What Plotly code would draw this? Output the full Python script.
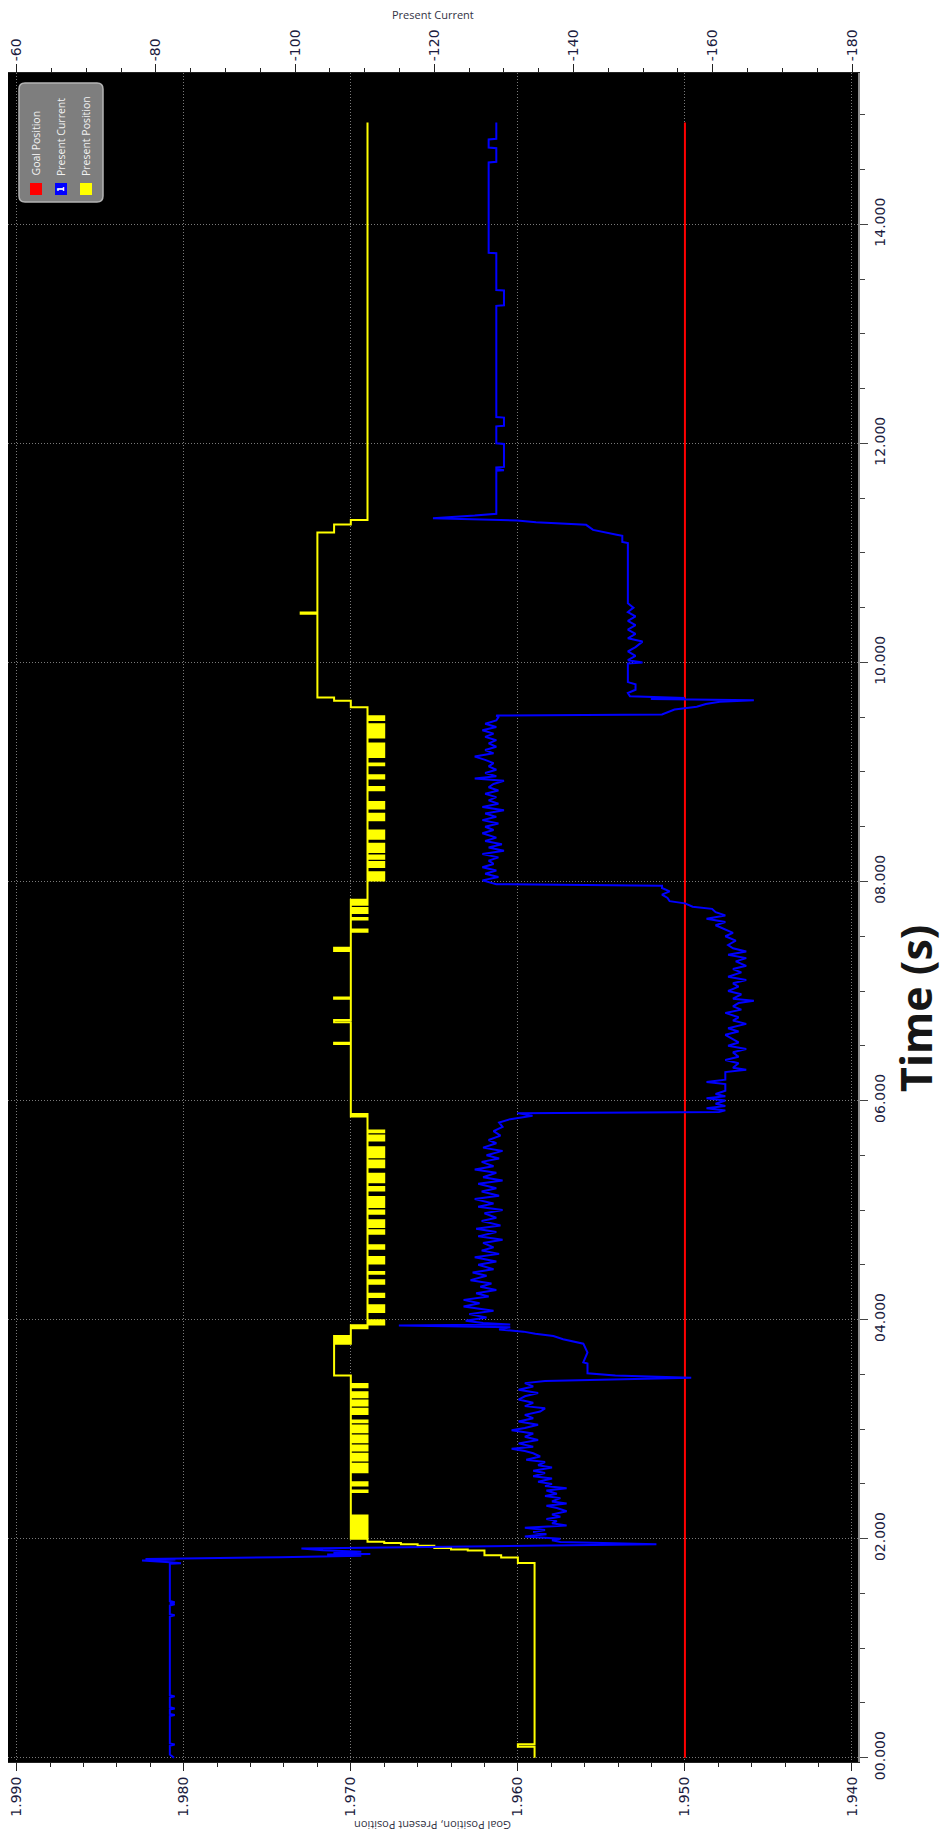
import plotly.graph_objects as go

# ---------------- data ----------------
# Goal Position (red)
goal_t = [0.0, 14.93]
goal_v = [1.950, 1.950]

# Present Position (yellow): change points (time s, value), value held until next time
position_samples = [
    (0.000, 1.959), (0.100, 1.960), (0.122, 1.959),
    (1.778, 1.960), (1.827, 1.961), (1.848, 1.962), (1.893, 1.963), (1.900, 1.964), (1.915, 1.965),
    (1.935, 1.966), (1.950, 1.967), (1.960, 1.968), (1.972, 1.969),
    (2.000, 1.970), (2.012, 1.969), (2.024, 1.970), (2.036, 1.969), (2.048, 1.970), (2.060, 1.969),
    (2.072, 1.970), (2.084, 1.969), (2.096, 1.970), (2.108, 1.969), (2.120, 1.970), (2.132, 1.969),
    (2.144, 1.970), (2.156, 1.969), (2.168, 1.970), (2.180, 1.969), (2.192, 1.970), (2.202, 1.969),
    (2.212, 1.970),
    (2.425, 1.969), (2.440, 1.970),
    (2.486, 1.969), (2.496, 1.970), (2.504, 1.969), (2.516, 1.970),
    (2.607, 1.969), (2.617, 1.970), (2.625, 1.969), (2.635, 1.970), (2.645, 1.969), (2.655, 1.970),
    (2.663, 1.969), (2.672, 1.970), (2.678, 1.969), (2.684, 1.970),
    (2.714, 1.969), (2.722, 1.970), (2.730, 1.969), (2.740, 1.970), (2.748, 1.969), (2.757, 1.970),
    (2.765, 1.969), (2.775, 1.970),
    (2.805, 1.969), (2.815, 1.970), (2.825, 1.969), (2.835, 1.970), (2.842, 1.969), (2.850, 1.970),
    (2.881, 1.969), (2.890, 1.970), (2.899, 1.969), (2.908, 1.970), (2.916, 1.969), (2.925, 1.970),
    (2.932, 1.969), (2.941, 1.970),
    (2.972, 1.969), (2.981, 1.970), (2.990, 1.969), (3.000, 1.970), (3.008, 1.969), (3.017, 1.970),
    (3.025, 1.969), (3.033, 1.970),
    (3.063, 1.969), (3.078, 1.970),
    (3.139, 1.969), (3.148, 1.970), (3.156, 1.969), (3.166, 1.970), (3.175, 1.969), (3.185, 1.970),
    (3.215, 1.969), (3.224, 1.970), (3.233, 1.969), (3.243, 1.970), (3.252, 1.969), (3.261, 1.970),
    (3.291, 1.969), (3.300, 1.970), (3.309, 1.969), (3.318, 1.970), (3.328, 1.969), (3.337, 1.970),
    (3.382, 1.969), (3.392, 1.970), (3.402, 1.969), (3.413, 1.970),
    (3.489, 1.971),
    (3.780, 1.970), (3.790, 1.971), (3.800, 1.970), (3.810, 1.971), (3.820, 1.970), (3.835, 1.971),
    (3.850, 1.970),
    (3.920, 1.969), (3.930, 1.970), (3.948, 1.969),
    (3.955, 1.968), (3.965, 1.969), (3.975, 1.968), (3.985, 1.969), (3.990, 1.968), (3.994, 1.969),
    (4.070, 1.968), (4.080, 1.969), (4.090, 1.968), (4.100, 1.969), (4.110, 1.968), (4.120, 1.969),
    (4.125, 1.968), (4.131, 1.969),
    (4.207, 1.968), (4.217, 1.969), (4.227, 1.968), (4.237, 1.969),
    (4.328, 1.968), (4.338, 1.969), (4.348, 1.968), (4.359, 1.969),
    (4.419, 1.968), (4.435, 1.969),
    (4.511, 1.968), (4.521, 1.969), (4.531, 1.968), (4.541, 1.969), (4.551, 1.968), (4.561, 1.969),
    (4.566, 1.968), (4.571, 1.969),
    (4.647, 1.968), (4.657, 1.969), (4.667, 1.968), (4.678, 1.969),
    (4.784, 1.968), (4.794, 1.969), (4.804, 1.968), (4.815, 1.969),
    (4.845, 1.968), (4.855, 1.969), (4.865, 1.968), (4.875, 1.969), (4.885, 1.968), (4.895, 1.969),
    (4.900, 1.968), (4.906, 1.969),
    (4.967, 1.968), (4.977, 1.969), (4.987, 1.968), (4.997, 1.969),
    (5.027, 1.968), (5.037, 1.969), (5.047, 1.968), (5.057, 1.969), (5.067, 1.968), (5.077, 1.969),
    (5.087, 1.968), (5.097, 1.969), (5.107, 1.968), (5.113, 1.969), (5.116, 1.968), (5.119, 1.969),
    (5.179, 1.968), (5.189, 1.969), (5.199, 1.968), (5.210, 1.969),
    (5.255, 1.968), (5.265, 1.969), (5.275, 1.968), (5.285, 1.969), (5.295, 1.968), (5.305, 1.969),
    (5.315, 1.968), (5.323, 1.969), (5.327, 1.968), (5.331, 1.969),
    (5.392, 1.968), (5.402, 1.969), (5.412, 1.968), (5.422, 1.969), (5.432, 1.968), (5.443, 1.969),
    (5.448, 1.968), (5.453, 1.969),
    (5.483, 1.968), (5.493, 1.969), (5.503, 1.968), (5.514, 1.969),
    (5.529, 1.968), (5.539, 1.969), (5.549, 1.968), (5.559, 1.969), (5.566, 1.968), (5.574, 1.969),
    (5.635, 1.968), (5.645, 1.969), (5.655, 1.968), (5.665, 1.969), (5.673, 1.968), (5.681, 1.969),
    (5.711, 1.968), (5.726, 1.969),
    (5.855, 1.970), (5.862, 1.969), (5.878, 1.970),
    (6.517, 1.971), (6.527, 1.970),
    (6.714, 1.971), (6.735, 1.970),
    (6.930, 1.971), (6.940, 1.970),
    (7.365, 1.971), (7.375, 1.970), (7.385, 1.971), (7.395, 1.970),
    (7.540, 1.969), (7.550, 1.970), (7.556, 1.969), (7.561, 1.970),
    (7.652, 1.969), (7.667, 1.970),
    (7.713, 1.969), (7.723, 1.970), (7.733, 1.969), (7.743, 1.970), (7.751, 1.969), (7.758, 1.970),
    (7.788, 1.969), (7.798, 1.970), (7.808, 1.969), (7.818, 1.970), (7.826, 1.969), (7.830, 1.970),
    (7.834, 1.969),
    (8.009, 1.968), (8.019, 1.969), (8.029, 1.968), (8.039, 1.969), (8.049, 1.968), (8.059, 1.969),
    (8.069, 1.968), (8.077, 1.969), (8.081, 1.968), (8.085, 1.969),
    (8.131, 1.968), (8.141, 1.969), (8.151, 1.968), (8.161, 1.969), (8.170, 1.968), (8.177, 1.969),
    (8.207, 1.968), (8.217, 1.969), (8.227, 1.968), (8.238, 1.969),
    (8.268, 1.968), (8.278, 1.969), (8.288, 1.968), (8.298, 1.969), (8.308, 1.968), (8.318, 1.969),
    (8.328, 1.968), (8.337, 1.969), (8.341, 1.968), (8.345, 1.969),
    (8.390, 1.968), (8.400, 1.969), (8.410, 1.968), (8.420, 1.969), (8.430, 1.968), (8.440, 1.969),
    (8.450, 1.968), (8.458, 1.969), (8.462, 1.968), (8.466, 1.969),
    (8.558, 1.968), (8.568, 1.969), (8.578, 1.968), (8.588, 1.969), (8.598, 1.968), (8.610, 1.969),
    (8.614, 1.968), (8.619, 1.969),
    (8.665, 1.968), (8.675, 1.969), (8.685, 1.968), (8.695, 1.969), (8.705, 1.968), (8.716, 1.969),
    (8.721, 1.968), (8.726, 1.969),
    (8.832, 1.968), (8.842, 1.969), (8.852, 1.968), (8.863, 1.969),
    (8.939, 1.968), (8.949, 1.969), (8.959, 1.968), (8.970, 1.969),
    (9.061, 1.968), (9.076, 1.969),
    (9.137, 1.968), (9.147, 1.969), (9.157, 1.968), (9.167, 1.969), (9.177, 1.968), (9.187, 1.969),
    (9.197, 1.968), (9.207, 1.969), (9.217, 1.968), (9.227, 1.969), (9.237, 1.968), (9.247, 1.969),
    (9.253, 1.968), (9.259, 1.969),
    (9.314, 1.968), (9.324, 1.969), (9.334, 1.968), (9.344, 1.969), (9.354, 1.968), (9.364, 1.969),
    (9.374, 1.968), (9.384, 1.969), (9.394, 1.968), (9.404, 1.969), (9.414, 1.968), (9.424, 1.969),
    (9.430, 1.968), (9.436, 1.969),
    (9.473, 1.968), (9.483, 1.969), (9.493, 1.968), (9.503, 1.969), (9.506, 1.968), (9.509, 1.969),
    (9.590, 1.970), (9.650, 1.971), (9.680, 1.972),
    (10.445, 1.973), (10.455, 1.972),
    (11.186, 1.971), (11.260, 1.970), (11.300, 1.969),
    (14.930, 1.969),
]

# Present Current (blue): (time s, current)
current_samples = [
    (0.000, -82.6), (0.030, -82.0), (0.110, -82.0), (0.120, -82.7), (0.130, -82.0),
    (0.380, -82.0), (0.390, -82.7), (0.400, -82.0), (0.440, -82.0), (0.450, -82.7), (0.460, -82.0),
    (0.550, -82.0), (0.560, -82.7), (0.570, -82.0), (1.290, -82.0), (1.300, -82.7), (1.310, -82.0),
    (1.390, -82.0), (1.400, -82.7), (1.410, -82.0), (1.420, -82.7), (1.430, -82.0), (1.770, -82.0),
    (1.775, -83.6), (1.785, -82.0), (1.800, -78.0), (1.810, -82.8), (1.815, -78.5), (1.830, -97.8),
    (1.845, -109.5), (1.855, -104.6), (1.860, -110.8), (1.870, -105.5), (1.880, -109.5), (1.895, -104.0),
    (1.910, -100.9), (1.950, -151.9), (1.960, -145.0), (1.970, -138.1), (1.985, -136.9), (2.000, -138.1),
    (2.02, -133.0), (2.04, -136.1), (2.06, -134.2), (2.08, -135.9), (2.10, -133.0), (2.12, -139.0),
    (2.14, -136.9), (2.16, -137.6), (2.18, -136.1), (2.20, -138.1), (2.22, -136.9), (2.25, -139.0),
    (2.28, -137.6), (2.30, -136.1), (2.32, -139.0), (2.34, -136.9), (2.37, -138.1), (2.39, -135.9),
    (2.41, -137.6), (2.44, -136.1), (2.46, -139.0), (2.48, -135.9), (2.50, -136.9), (2.52, -134.9),
    (2.55, -136.9), (2.57, -134.2), (2.60, -135.9), (2.62, -134.2), (2.65, -136.9), (2.67, -134.9),
    (2.70, -135.9), (2.72, -133.2), (2.75, -135.2), (2.78, -134.2), (2.80, -133.0), (2.82, -131.1),
    (2.84, -134.2), (2.87, -132.1), (2.90, -134.9), (2.93, -133.0), (2.96, -134.2), (2.99, -131.1),
    (3.01, -133.0), (3.04, -134.9), (3.07, -132.1), (3.10, -134.2), (3.13, -133.0), (3.16, -135.2),
    (3.19, -135.9), (3.21, -133.0), (3.24, -134.2), (3.27, -132.1), (3.30, -133.0), (3.33, -134.9),
    (3.36, -132.1), (3.39, -134.2), (3.42, -133.0), (3.44, -135.9),
    (3.47, -156.9), (3.49, -146.0), (3.51, -142.0), (3.60, -142.0), (3.61, -141.4), (3.70, -142.0),
    (3.78, -141.4), (3.80, -139.8), (3.82, -138.5), (3.85, -137.1), (3.87, -134.5), (3.89, -132.8),
    (3.91, -129.3), (3.93, -130.9), (3.945, -114.9), (3.955, -130.9), (3.97, -127.0), (3.99, -124.5),
    (4.02, -127.5), (4.05, -125.0), (4.08, -128.5), (4.12, -124.2), (4.15, -126.5), (4.18, -124.2),
    (4.21, -127.8), (4.24, -126.0), (4.27, -128.9), (4.30, -126.6), (4.33, -128.2), (4.36, -125.2),
    (4.40, -127.5), (4.43, -125.5), (4.46, -128.5), (4.50, -126.3), (4.53, -128.9), (4.57, -125.8),
    (4.60, -129.3), (4.63, -126.8), (4.66, -128.5), (4.70, -127.0), (4.73, -129.8), (4.76, -126.3),
    (4.80, -128.9), (4.83, -126.0), (4.86, -129.5), (4.90, -126.8), (4.93, -128.9), (4.97, -127.2),
    (5.00, -129.8), (5.03, -126.3), (5.06, -128.5), (5.10, -125.8), (5.13, -129.3), (5.17, -126.8),
    (5.20, -128.9), (5.24, -126.3), (5.27, -129.8), (5.30, -127.0), (5.34, -128.9), (5.37, -125.8),
    (5.40, -128.5), (5.44, -126.8), (5.47, -129.3), (5.50, -127.5), (5.54, -129.8), (5.57, -127.0),
    (5.61, -128.9), (5.64, -127.8), (5.68, -129.5), (5.72, -128.5), (5.76, -129.8), (5.80, -129.3),
    (5.83, -130.9), (5.86, -134.1), (5.885, -131.9), (5.895, -160.9),
    (5.91, -161.8), (5.93, -159.1), (5.95, -161.8), (5.97, -160.4), (6.00, -161.8), (6.02, -159.1),
    (6.04, -161.8), (6.06, -160.4), (6.09, -161.8), (6.15, -161.8), (6.17, -159.1), (6.19, -161.8),
    (6.26, -161.8), (6.28, -164.8), (6.30, -162.9), (6.34, -163.7), (6.37, -161.8), (6.40, -163.7),
    (6.44, -162.9), (6.47, -164.8), (6.50, -162.2), (6.53, -163.7), (6.56, -162.9), (6.60, -161.8),
    (6.63, -163.7), (6.66, -162.2), (6.70, -164.8), (6.73, -162.9), (6.76, -163.7), (6.80, -161.8),
    (6.83, -164.1), (6.86, -162.9), (6.89, -163.7), (6.91, -165.9), (6.93, -162.9), (6.97, -164.1),
    (7.00, -162.2), (7.04, -163.7), (7.07, -162.9), (7.10, -164.8), (7.13, -162.2), (7.17, -164.1),
    (7.20, -162.9), (7.23, -164.8), (7.27, -163.3), (7.30, -164.8), (7.33, -162.2), (7.36, -164.8),
    (7.39, -162.9), (7.42, -162.2), (7.46, -163.3), (7.50, -161.8), (7.53, -162.9), (7.56, -161.8),
    (7.60, -160.4), (7.63, -161.8), (7.66, -159.1), (7.69, -161.8), (7.72, -160.4), (7.75, -159.9),
    (7.77, -157.1), (7.80, -156.0), (7.82, -153.8), (7.85, -153.5), (7.88, -152.7), (7.91, -153.8),
    (7.94, -152.7), (7.96, -152.7), (7.975, -128.9),
    (8.01, -126.9), (8.04, -129.2), (8.07, -127.3), (8.10, -128.9), (8.13, -126.9), (8.16, -128.5),
    (8.19, -127.8), (8.22, -129.2), (8.25, -126.9), (8.28, -130.0), (8.31, -127.8), (8.34, -129.7),
    (8.37, -127.3), (8.40, -128.9), (8.44, -126.9), (8.47, -128.5), (8.50, -127.3), (8.53, -129.2),
    (8.56, -126.9), (8.59, -128.9), (8.62, -127.3), (8.65, -130.0), (8.68, -126.9), (8.71, -129.2),
    (8.74, -127.8), (8.77, -128.9), (8.80, -127.3), (8.83, -129.2), (8.86, -127.8), (8.89, -128.5),
    (8.92, -130.0), (8.94, -125.8), (8.96, -128.9), (8.99, -127.3), (9.02, -128.9), (9.05, -127.8),
    (9.08, -128.5), (9.11, -127.3), (9.14, -125.8), (9.17, -128.5), (9.20, -127.3), (9.23, -128.9),
    (9.26, -127.8), (9.29, -128.9), (9.32, -127.3), (9.35, -128.5), (9.38, -126.9), (9.41, -128.9),
    (9.44, -127.3), (9.47, -128.9), (9.50, -129.2), (9.515, -128.9),
    (9.525, -152.7), (9.54, -153.3), (9.57, -154.5), (9.595, -157.7), (9.62, -159.0), (9.64, -161.0),
    (9.655, -165.9), (9.665, -151.1), (9.675, -156.0), (9.69, -148.1), (9.72, -147.8), (9.75, -148.9),
    (9.80, -148.9), (9.82, -147.8), (9.99, -147.8), (10.00, -149.9), (10.02, -147.8), (10.06, -148.9),
    (10.10, -147.8), (10.14, -148.9), (10.19, -149.9), (10.22, -147.8), (10.26, -148.9), (10.30, -147.8),
    (10.34, -148.9), (10.38, -147.8), (10.42, -148.9), (10.46, -147.8), (10.50, -148.6), (10.54, -147.8),
    (11.09, -147.8), (11.10, -147.0), (11.155, -147.0), (11.165, -146.2), (11.18, -145.0),
    (11.21, -142.8), (11.256, -141.8), (11.28, -134.6), (11.296, -131.9), (11.317, -119.8),
    (11.34, -125.8), (11.357, -128.9),
    (11.750, -128.9), (11.755, -130.0), (11.765, -128.9), (11.780, -128.9), (11.785, -130.0),
    (11.995, -130.0), (12.000, -128.9), (12.155, -128.9), (12.160, -130.0), (12.235, -130.0),
    (12.240, -128.9), (13.255, -128.9), (13.260, -130.0), (13.395, -130.0), (13.400, -128.9),
    (13.735, -128.9), (13.740, -127.8), (14.565, -127.8), (14.570, -128.9), (14.695, -128.9),
    (14.700, -127.8), (14.775, -127.8), (14.780, -128.9), (14.930, -128.9),
]

pos_ticks = [1.990, 1.980, 1.970, 1.960, 1.950, 1.940]
pos_ticktext = ["1.990", "1.980", "1.970", "1.960", "1.950", "1.940"]
cur_ticks = [-60, -80, -100, -120, -140, -160, -180]
cur_ticktext = ["-60", "-80", "-100", "-120", "-140", "-160", "-180"]
time_ticks = [0, 2, 4, 6, 8, 10, 12, 14]
time_ticktext = ["00.000", "02.000", "04.000", "06.000", "08.000", "10.000", "12.000", "14.000"]

legend_names = ["Goal Position", "Present Current", "Present Position"]
legend_colors = ["#ff0000", "#0000ff", "#ffff00"]

# ---------------- layout geometry (pixels) ----------------
W, H = 945, 1834
PL, PR, PT, PB = 8, 858, 73, 1762


def px(x):
    return (x - PL) / (PR - PL)


def py(y):
    return (PB - y) / (PB - PT)


pos_t = [s[0] for s in position_samples]
pos_v = [s[1] for s in position_samples]
cur_t = [s[0] for s in current_samples]
cur_v = [s[1] for s in current_samples]

fig = go.Figure()
fig.add_trace(go.Scatter(x=goal_v, y=goal_t, mode="lines", name=legend_names[0],
                         line=dict(color="#ff0000", width=2), xaxis="x", yaxis="y"))
fig.add_trace(go.Scatter(x=pos_v, y=pos_t, mode="lines", name=legend_names[2],
                         line=dict(color="#ffff00", width=2, shape="vh"), xaxis="x", yaxis="y"))
fig.add_trace(go.Scatter(x=cur_v, y=cur_t, mode="lines", name=legend_names[1],
                         line=dict(color="#0000ff", width=2), xaxis="x2", yaxis="y"))

tickfont = dict(family="DejaVu Sans", size=14, color="#1c1c40")
grid_col = "#7a7a7a"

fig.update_layout(
    width=W, height=H,
    margin=dict(l=PL, r=W - PR, t=PT, b=H - PB),
    paper_bgcolor="white", plot_bgcolor="black",
    showlegend=False,
    xaxis=dict(
        range=[1.99052, 1.93964], side="bottom",
        tickmode="array", tickvals=pos_ticks, ticktext=pos_ticktext,
        tickangle=-90, tickfont=tickfont,
        ticks="outside", ticklen=8, tickwidth=1, tickcolor="#222",
        minor=dict(dtick=0.002, tick0=1.94, ticklen=4, tickcolor="#222", showgrid=False),
        showline=True, linecolor="#222", linewidth=1, mirror=False,
        showgrid=True, gridcolor=grid_col, griddash="1px,2px", gridwidth=1,
        zeroline=False, fixedrange=True,
    ),
    xaxis2=dict(
        range=[-58.75, -180.86], overlaying="x", side="top", anchor="y",
        tickmode="array", tickvals=cur_ticks, ticktext=cur_ticktext,
        tickangle=-90, tickfont=tickfont,
        ticks="outside", ticklen=8, tickwidth=1, tickcolor="#222",
        minor=dict(dtick=5, tick0=-60, ticklen=4, tickcolor="#222", showgrid=False),
        showline=True, linecolor="#222", linewidth=1,
        showgrid=False, zeroline=False,
    ),
    yaxis=dict(
        range=[-0.039, 15.381], side="right",
        tickmode="array", tickvals=time_ticks, ticktext=time_ticktext,
        tickangle=-90, tickfont=tickfont,
        ticks="outside", ticklen=8, tickwidth=1, tickcolor="#444",
        minor=dict(dtick=0.5, tick0=0, ticklen=5, tickcolor="#444", showgrid=False),
        showline=True, linecolor="#8c8c8c", linewidth=2,
        showgrid=True, gridcolor=grid_col, griddash="1px,2px", gridwidth=1,
        zeroline=False,
    ),
)

annotations = [
    dict(text="Present Current", x=px(433), y=py(15), xref="paper", yref="paper",
         showarrow=False, xanchor="center", yanchor="middle",
         font=dict(family="Open Sans", size=11, color="#333344")),
    dict(text="Goal Position, Present Position", x=px(433), y=py(1825), xref="paper", yref="paper",
         showarrow=False, xanchor="center", yanchor="middle", textangle=180,
         font=dict(family="Open Sans", size=11, color="#333344")),
    dict(text="<b>Time (s)</b>", x=px(916), y=py(1008), xref="paper", yref="paper",
         showarrow=False, xanchor="center", yanchor="middle", textangle=-90,
         font=dict(family="Open Sans", size=43, color="#161616")),
]

# legend box (rounded rectangle) built in pixel space
x0, x1, y0, y1, r = 19, 103, 83, 202, 6
pts = [("M", [(x0 + r, y0)]), ("L", [(x1 - r, y0)]), ("Q", [(x1, y0), (x1, y0 + r)]),
       ("L", [(x1, y1 - r)]), ("Q", [(x1, y1), (x1 - r, y1)]), ("L", [(x0 + r, y1)]),
       ("Q", [(x0, y1), (x0, y1 - r)]), ("L", [(x0, y0 + r)]), ("Q", [(x0, y0), (x0 + r, y0)])]
path = " ".join(c + " " + " ".join(f"{px(a):.5f},{py(b):.5f}" for a, b in p) for c, p in pts) + " Z"
shapes = [dict(type="path", path=path, xref="paper", yref="paper",
               fillcolor="#7e7e7e", line=dict(color="#b4b4b4", width=1.5), layer="above")]

col_x = [36, 61, 86]
for name, color, cx in zip(legend_names, legend_colors, col_x):
    shapes.append(dict(type="rect", xref="paper", yref="paper",
                       x0=px(cx - 6), x1=px(cx + 6), y0=py(195), y1=py(183),
                       fillcolor=color, line=dict(width=0), layer="above"))
    annotations.append(dict(text=name, x=px(cx), y=py(178), xref="paper", yref="paper",
                            showarrow=False, xanchor="center", yanchor="bottom", textangle=-90,
                            font=dict(family="Open Sans", size=10.5, color="#f2f2f2")))
annotations.append(dict(text="<b>1</b>", x=px(61), y=py(189), xref="paper", yref="paper",
                        showarrow=False, xanchor="center", yanchor="middle", textangle=-90,
                        font=dict(family="DejaVu Sans", size=8, color="white")))

fig.update_layout(annotations=annotations, shapes=shapes)
fig.write_html("out.html")
